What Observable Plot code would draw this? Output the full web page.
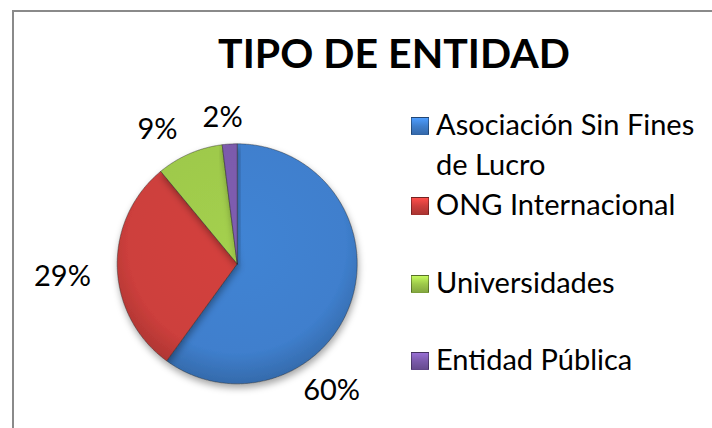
<!DOCTYPE html>
<html>
<head>
<meta charset="utf-8">
<script src="https://cdn.jsdelivr.net/npm/d3@7"></script>
<script src="https://cdn.jsdelivr.net/npm/@observablehq/plot@0.6"></script>
<style>
  html, body { margin: 0; padding: 0; background: #fff; }
  #chart { position: relative; width: 712px; height: 428px; overflow: hidden; background: #fff;
           font-family: Lato, "Open Sans", sans-serif; color: #000; }
  #border { position: absolute; left: 12px; top: 10px; width: 760px; height: 480px; border: 2px solid #8a8a8a; box-sizing: border-box; }
  #title { position: absolute; left: -6px; width: 800px; top: 32px; line-height: 41px; text-align: center; font-weight: bold; font-size: 41px; white-space: nowrap; }
  #plot { position: absolute; left: 0; top: 0; }
  .leg { position: absolute; left: 0; top: 0; font-size: 29px; line-height: 40px; white-space: nowrap; }
  .sw { position: absolute; width: 18px; height: 18px; box-sizing: border-box; border: 1px solid rgba(0,0,0,0.35); }
</style>
</head>
<body>
<div id="chart">
  <div id="border"></div>
  <div id="title"></div>
  <div id="plot"></div>
  <div id="legend"></div>
</div>
<script>
// ---- data ----
const titleText = "TIPO DE ENTIDAD";
const categories = ["Asociación Sin Fines de Lucro", "ONG Internacional", "Universidades", "Entidad Pública"];
const legendLines = [["Asociación Sin Fines", "de Lucro"], ["ONG Internacional"], ["Universidades"], ["Entidad Pública"]];
const values = [60, 29, 9, 2];
const labels = ["60%", "29%", "9%", "2%"];
const colors = ["#3f7fcd", "#cd3f3c", "#9ec94b", "#7b5aab"];

// ---- layout ----
const cx = 236.7, cy = 263.3, R = 120;
const legendBaselines = [135, 215, 293, 370];   // first text line baseline of each entry
const legendTextX = 436, legendSwatchX = 411;
// label placement (polar: degrees clockwise from 12 o'clock, radius in pie-radius units)
const labelAngle = [143.3, 265.8, 329.3, 354.3];
const labelRadius = [1.316, 1.46, 1.30, 1.225];

document.getElementById("title").textContent = titleText;

const pie = d3.pie().sort(null).value(d => d)(values);
const rows = pie.map((p, i) => ({name: categories[i], color: colors[i], start: p.startAngle, end: p.endAngle, value: p.value, label: labels[i], i}));

function arcPoints(r) {
  const n = Math.max(4, Math.ceil((r.end - r.start) / 0.01));
  const pts = [{x: 0, y: 0}];
  for (let k = 0; k <= n; k++) {
    const a = r.start + (r.end - r.start) * k / n;
    pts.push({x: Math.sin(a), y: Math.cos(a)});
  }
  pts.push({x: 0, y: 0});
  return pts;
}

const labelData = rows.map(r => {
  const a = labelAngle[r.i] * Math.PI / 180;
  return {x: labelRadius[r.i] * Math.sin(a), y: labelRadius[r.i] * Math.cos(a), label: r.label};
});

const sliceMarks = rows.map(r => Plot.line(arcPoints(r), {
  x: "x", y: "y", fill: `url(#grad${r.i})`, stroke: "rgba(40,40,40,0.55)", strokeWidth: 0.8, curve: "linear",
  strokeLinejoin: "round"
}));

const chart = Plot.plot({
  width: 712, height: 428, margin: 0,
  style: {background: "transparent", overflow: "visible"},
  x: {domain: [-1, 1], range: [cx - R, cx + R], axis: null},
  y: {domain: [-1, 1], range: [cy + R, cy - R], axis: null},
  marks: [
    ...sliceMarks,
    Plot.text(labelData, {x: "x", y: "y", text: "label", fontSize: 29, fill: "#000", fontFamily: "Lato, 'Open Sans', sans-serif"})
  ]
});

// gradients & shadow
const svg = d3.select(chart);
const defs = svg.insert("defs", ":first-child");
const f = defs.append("filter").attr("id", "shadow").attr("x", "-20%").attr("y", "-20%").attr("width", "140%").attr("height", "140%");
f.append("feDropShadow").attr("dx", 1).attr("dy", 4).attr("stdDeviation", 3.5).attr("flood-color", "#000").attr("flood-opacity", 0.35);
rows.forEach(r => {
  const c = d3.color(r.color);
  const g = defs.append("radialGradient").attr("id", "grad" + r.i)
    .attr("gradientUnits", "userSpaceOnUse").attr("cx", cx).attr("cy", cy - 20).attr("r", R + 25);
  g.append("stop").attr("offset", "0%").attr("stop-color", c.brighter(0.1));
  g.append("stop").attr("offset", "75%").attr("stop-color", c);
  g.append("stop").attr("offset", "100%").attr("stop-color", c.darker(0.6));
});
svg.selectAll("g[aria-label='line']").attr("filter", "url(#shadow)");

document.getElementById("plot").appendChild(chart);

// legend (font 29px Lato, line-height 40px: baseline ≈ top + 31)
const leg = d3.select("#legend");
rows.forEach((r, i) => {
  const b = legendBaselines[i];
  const c = d3.color(r.color);
  leg.append("div").attr("class", "sw")
    .style("left", legendSwatchX + "px").style("top", (b - 18) + "px")
    .style("background", `linear-gradient(180deg, ${c.brighter(0.6)}, ${r.color} 50%, ${c.darker(0.5)})`);
  leg.append("div").attr("class", "leg")
    .style("left", legendTextX + "px").style("top", (b - 31) + "px")
    .html(legendLines[i].join("<br>"));
});
</script>
</body>
</html>
